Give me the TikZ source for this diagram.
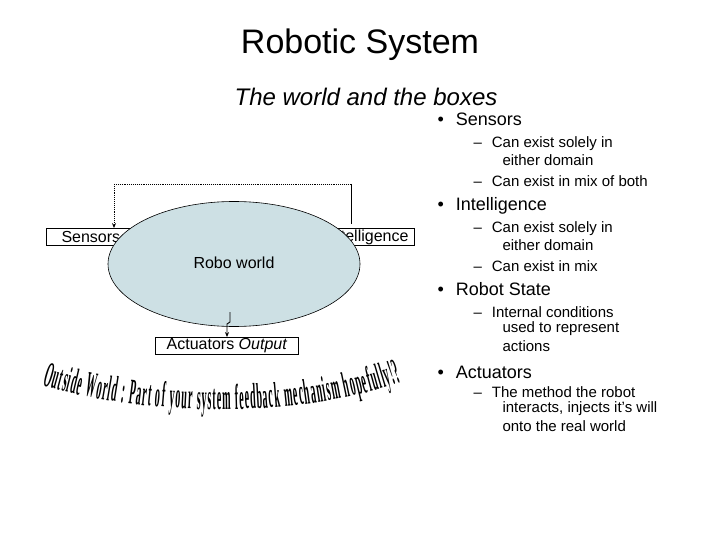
\documentclass[tikz,border=0pt]{standalone}
\usepackage{fontspec}
\setmainfont{Liberation Sans}
\newfontfamily\cond[FakeStretch=0.28]{Liberation Serif Bold}
\usetikzlibrary{decorations.text,arrows.meta,shapes.geometric}
\definecolor{worldfill}{RGB}{205,224,228}
\begin{document}
\begin{tikzpicture}[x=1pt,y=-1pt,
  box/.style={draw,fill=white,inner sep=0pt,line width=0.8pt},
  bul/.style={anchor=west,font=\fontsize{18}{20}\selectfont},
  sub/.style={anchor=west,font=\fontsize{15}{15}\selectfont,align=left},
  fb/.style={line width=0.9pt,densely dotted},
  arr/.style={-{Stealth[length=5pt,width=4pt]},line width=0.9pt}]
\useasboundingbox (0,0) rectangle (720,540);
\node (title) at (360,45) {\fontsize{34}{36}\selectfont Robotic System};
\node (sub) at (366,97) {\fontsize{24}{26}\selectfont\itshape The world and the boxes};
% sensors/intelligence box
\node[box,minimum width=368pt,minimum height=17pt] (sbox) at (230,237) {};
\node[anchor=west,font=\fontsize{16}{16}\selectfont] (sens) at (58,237) {Sensors};
\node[anchor=east,font=\fontsize{16}{16}\selectfont] (intel) at (412,237) {Intelligence};
% feedback loop
\coordinate (tl) at (114,184); \coordinate (tr) at (351,184);
\coordinate (bl) at (114,263); \coordinate (br) at (351,263);
\draw[fb] (tl) -- (tr);
\draw[line width=0.9pt] (tr) -- (351,224);
\draw[fb,arr] (tl) -- (sbox.north -| tl);
\draw[fb] (br) -- (bl);
\draw[fb,arr] (bl) -- (sbox.south -| bl);
\draw[fb] (br) -- (sbox.south -| br);
% ellipse
\node[draw,ellipse,fill=worldfill,minimum width=252pt,minimum height=125pt,line width=0.6pt] (world) at (234,264) {};
\node[font=\fontsize{16}{16}\selectfont] (robo) at (234,263) {Robo world};
% actuators
\node[box,minimum width=143pt,minimum height=17pt,font=\fontsize{16}{16}\selectfont] (act) at (227,346) {Actuators \textit{Output}};
\draw[arr] (230,312) -- (230,322) -- (227,324) -- (act.north);
% curved text
\path[decorate,decoration={text along path,text align=fit to path,
  text={|\cond\fontsize{36}{36}\selectfont|Outside World : Part of your system feedback mechanism hopefully!?}}]
  (42,385) .. controls (150,418) and (300,418) .. (402,382);
% bullets
\node[bul] (b1) at (434,119) {•\hspace{12pt}Sensors};
\node[sub] at (470,144) {–\hspace{10pt}Can exist solely in};
\node[sub] at (499,160) {either domain};
\node[sub] at (470,181) {–\hspace{10pt}Can exist in mix of both};
\node[bul] (b2) at (434,206) {•\hspace{12pt}Intelligence};
\node[sub] at (470,229) {–\hspace{10pt}Can exist solely in};
\node[sub] at (499,245) {either domain};
\node[sub] at (470,266) {–\hspace{10pt}Can exist in mix};
\node[bul] (b3) at (434,289) {•\hspace{12pt}Robot State};
\node[sub] at (470,312) {–\hspace{10pt}Internal conditions};
\node[sub] at (499,329) {used to represent};
\node[sub] at (499,346) {actions};
\node[bul] (b4) at (434,372) {•\hspace{12pt}Actuators};
\node[sub] at (470,392) {–\hspace{10pt}The method the robot};
\node[sub] at (499,409) {interacts, injects it’s will};
\node[sub] at (499,426) {onto the real world};
\end{tikzpicture}
\end{document}
